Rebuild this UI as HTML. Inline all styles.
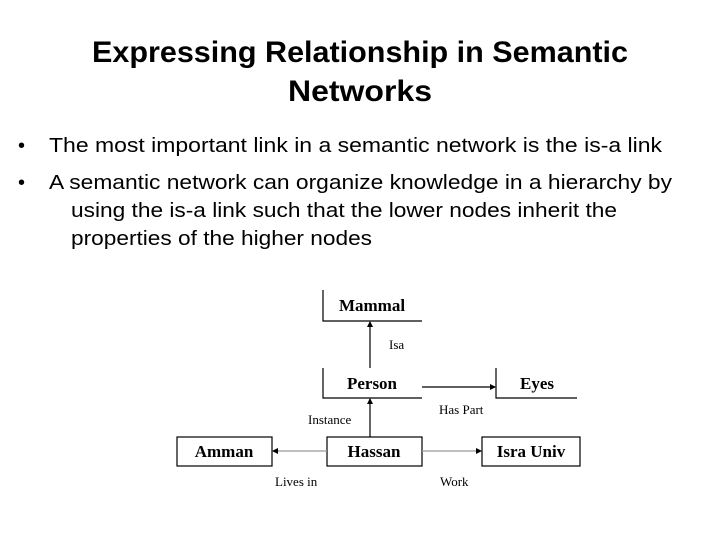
<!DOCTYPE html>
<html><head><meta charset="utf-8"><style>html,body{margin:0;padding:0;background:#fff}svg{display:block}</style></head>
<body>
<svg width="720" height="540" viewBox="0 0 720 540" xmlns="http://www.w3.org/2000/svg">
<defs>
<marker id="a" markerWidth="6" markerHeight="6" refX="5" refY="3" orient="auto" markerUnits="userSpaceOnUse"><path d="M0,0 L6,3 L0,6 z" fill="#000"/></marker>
<marker id="g" markerWidth="6" markerHeight="6" refX="5" refY="3" orient="auto" markerUnits="userSpaceOnUse"><path d="M0,0 L6,3 L0,6 z" fill="#000"/></marker>
</defs>
<g font-family="Liberation Sans, sans-serif" fill="#000">
<text x="92" y="62" font-size="30" font-weight="bold" textLength="536" lengthAdjust="spacingAndGlyphs">Expressing Relationship in Semantic</text>
<text x="288" y="101" font-size="30" font-weight="bold" textLength="144" lengthAdjust="spacingAndGlyphs">Networks</text>
<text x="18" y="152" font-size="20">•</text>
<text x="49" y="152" font-size="20" textLength="613" lengthAdjust="spacingAndGlyphs">The most important link in a semantic network is the is-a link</text>
<text x="18" y="189" font-size="20">•</text>
<text x="49" y="189" font-size="20" textLength="623" lengthAdjust="spacingAndGlyphs">A semantic network can organize knowledge in a hierarchy by</text>
<text x="71" y="217" font-size="20" textLength="546" lengthAdjust="spacingAndGlyphs">using the is-a link such that the lower nodes inherit the</text>
<text x="71" y="245" font-size="20" textLength="301" lengthAdjust="spacingAndGlyphs">properties of the higher nodes</text>
</g>
<g fill="none" stroke="#000" stroke-width="1.2">
<path d="M323,290 V321 H422"/>
<path d="M323,368 V398 H422"/>
<path d="M496,368 V398 H577"/>
<rect x="327" y="437" width="95" height="29"/>
<rect x="177" y="437" width="95" height="29"/>
<rect x="482" y="437" width="98" height="29"/>
<line x1="370" y1="368" x2="370" y2="322" marker-end="url(#a)"/>
<line x1="370" y1="437" x2="370" y2="399" marker-end="url(#a)"/>
<line x1="422" y1="387" x2="495" y2="387" marker-end="url(#a)"/>
<line x1="327" y1="451" x2="273" y2="451" stroke="#999" marker-end="url(#g)"/>
<line x1="422" y1="451" x2="481" y2="451" stroke="#999" marker-end="url(#g)"/>
</g>
<g font-family="Liberation Serif, serif" fill="#000">
<g font-weight="bold" font-size="17" text-anchor="middle">
<text x="372" y="311">Mammal</text>
<text x="372" y="389">Person</text>
<text x="537" y="389">Eyes</text>
<text x="374" y="457">Hassan</text>
<text x="224" y="457">Amman</text>
<text x="531" y="457">Isra Univ</text>
</g>
<g font-size="13">
<text x="389" y="349">Isa</text>
<text x="439" y="414">Has Part</text>
<text x="308" y="424">Instance</text>
<text x="275" y="486">Lives in</text>
<text x="440" y="486">Work</text>
</g>
</g>
</svg>
</body></html>
